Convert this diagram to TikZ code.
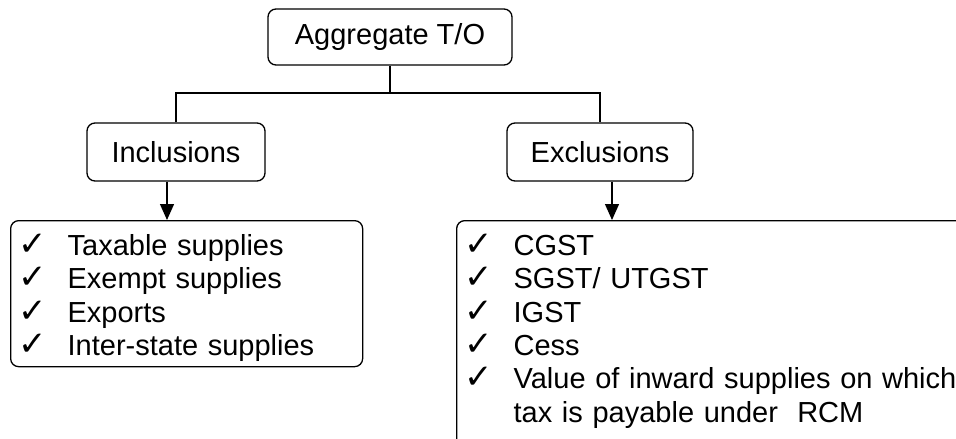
\documentclass[tikz,border=0pt]{standalone}
\usepackage{fontspec}
\setmainfont{Liberation Sans}
\newfontfamily\tickfont{DejaVu Sans}
\usetikzlibrary{arrows.meta}
\newcommand{\tick}{\makebox[49pt][l]{\tickfont\fontsize{34}{33.3}\selectfont ✓}}
\begin{document}
\begin{tikzpicture}[x=1pt, y=-1pt,
        every node/.style={font=\fontsize{29}{33.3}\selectfont},
        headbox/.style={draw, line width=1.3pt, rounded corners=8pt, inner sep=0pt},
        listbox/.style={draw, line width=1.3pt, rounded corners=8pt, anchor=north west,
            inner xsep=8pt, inner ysep=0pt, align=left, text height=35pt},
        arr/.style={line width=1.3pt, -{Triangle[width=14pt, length=16pt]}}]
      \useasboundingbox (0,0) rectangle (956,439);
      \clip (0,0) rectangle (956,439);
      \node[headbox, minimum width=244pt, minimum height=56pt] (AGG) at (390,37) {Aggregate T/O};
      \node[headbox, minimum width=178pt, minimum height=58pt] (INC) at (176,152) {Inclusions};
      \node[headbox, minimum width=186pt, minimum height=58pt] (EXC) at (600,152) {Exclusions};
      \coordinate (BUS) at (390,93);
      \draw[line width=1.3pt] (AGG.south) -- (BUS);
      \draw[line width=1.3pt] (INC.north) |- (BUS) -| (EXC.north);
      \node[listbox, text width=336pt, text depth=111pt] (INCL) at (10,220)
        {\tick Taxable supplies\\ \tick Exempt supplies\\ \tick Exports\\ \tick Inter-state supplies};
      \node[listbox, text width=504pt, text depth=240pt] (EXCL) at (456,220)
        {\tick CGST\\ \tick SGST/ UTGST\\ \tick IGST\\ \tick Cess\\
         \tick Value of inward supplies on which\\ \hspace*{49pt}tax is payable under\ \ RCM};
      \draw[arr] ([xshift=-9pt]INC.south) -- ([xshift=-9pt]INC.south |- INCL.north);
      \draw[arr] ([xshift=12pt]EXC.south) -- ([xshift=12pt]EXC.south |- EXCL.north);
    \end{tikzpicture}
\end{document}
